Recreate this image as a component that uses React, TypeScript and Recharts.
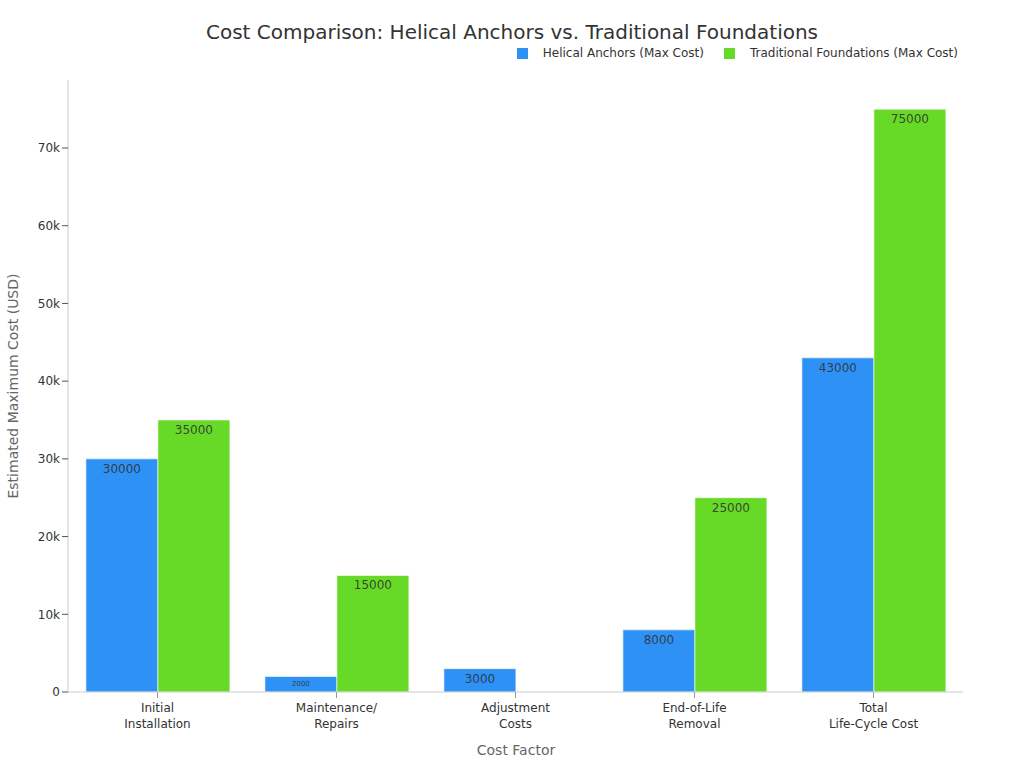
import { BarChart, Bar, XAxis, YAxis, LabelList } from "recharts";

const categories = ["Initial\nInstallation", "Maintenance/\nRepairs", "Adjustment\nCosts", "End-of-Life\nRemoval", "Total\nLife-Cycle Cost"];
const helicalMax = [30000, 2000, 3000, 8000, 43000];
const traditionalMax: (number | null)[] = [35000, 15000, null, 25000, 75000];
const yTicks = [0, 10000, 20000, 30000, 40000, 50000, 60000, 70000];

const data = categories.map((c, i) => ({
  factor: c,
  helical: helicalMax[i],
  traditional: traditionalMax[i],
}));

const FONT = "'DejaVu Sans', sans-serif";
const BLUE = "#2e91f5";
const GREEN = "#66da26";

const XTick = (props: any) => {
  const { x, y, payload } = props;
  const lines = String(payload.value).split("\n");
  return (
    <g transform={`translate(${x},${y})`}>
      {lines.map((l, i) => (
        <text key={i} x={0} y={12 + i * 16} textAnchor="middle" fontSize={12} fill="#333" fontFamily={FONT}>
          {l}
        </text>
      ))}
    </g>
  );
};

const BarLabel = (props: any) => {
  const { x, y, width, height, value } = props;
  if (value == null || value === 0) return null;
  const small = height < 20;
  return (
    <text
      x={x + width / 2}
      y={y + Math.min(10, height / 2)}
      textAnchor="middle"
      dominantBaseline="central"
      fontSize={small ? 7 : 12}
      fill="#333"
      fillOpacity={0.9}
      fontFamily={FONT}
    >
      {value}
    </text>
  );
};

const legendItems = [
  { label: "Helical Anchors (Max Cost)", color: BLUE },
  { label: "Traditional Foundations (Max Cost)", color: GREEN },
];

const App = () => {
  return (
    <div style={{ position: "absolute", left: 0, top: 0, width: 1024, height: 768, background: "#fff", fontFamily: FONT }}>
      <div style={{ position: "absolute", left: 0, top: 20, width: 1024, textAlign: "center", fontSize: 20, color: "#333" }}>
        Cost Comparison: Helical Anchors vs. Traditional Foundations
      </div>
      <div
        style={{
          position: "absolute",
          top: 46,
          right: 66,
          display: "flex",
          gap: 20,
          fontSize: 12,
          color: "#333",
          zIndex: 2,
        }}
      >
        {legendItems.map((item) => (
          <span key={item.label} style={{ display: "flex", alignItems: "center", gap: 15 }}>
            <span style={{ width: 11, height: 11, backgroundColor: item.color, display: "inline-block" }} />
            {item.label}
          </span>
        ))}
      </div>
      <BarChart
        width={1024}
        height={768}
        data={data}
        margin={{ top: 80, right: 61, bottom: 0, left: 1 }}
        barCategoryGap="10%"
        barGap={0}
      >
        <XAxis
          dataKey="factor"
          height={76}
          interval={0}
          tick={<XTick />}
          tickLine={{ stroke: "#999" }}
          axisLine={{ stroke: "#ccc" }}
          label={{
            content: () => (
              <text x={516} y={755} textAnchor="middle" fontSize={14} fill="#666" fontFamily={FONT}>
                Cost Factor
              </text>
            ),
          }}
        />
        <YAxis
          width={67}
          domain={[0, 78750]}
          ticks={yTicks}
          tickFormatter={(v: number) => (v === 0 ? "0" : `${v / 1000}k`)}
          tick={{ fontSize: 12, fill: "#333", fontFamily: FONT }}
          tickLine={{ stroke: "#555" }}
          axisLine={{ stroke: "#ccc" }}
          label={{
            content: () => (
              <text
                x={18}
                y={386}
                transform="rotate(-90 18 386)"
                textAnchor="middle"
                fontSize={14}
                fill="#666"
                fontFamily={FONT}
              >
                Estimated Maximum Cost (USD)
              </text>
            ),
          }}
        />
        <Bar dataKey="helical" fill={BLUE} stroke="#fff" strokeOpacity={0.6} strokeWidth={1} isAnimationActive={false}>
          <LabelList dataKey="helical" content={<BarLabel />} />
        </Bar>
        <Bar dataKey="traditional" fill={GREEN} stroke="#fff" strokeOpacity={0.6} strokeWidth={1} isAnimationActive={false}>
          <LabelList dataKey="traditional" content={<BarLabel />} />
        </Bar>
      </BarChart>
    </div>
  );
};

export default App;
